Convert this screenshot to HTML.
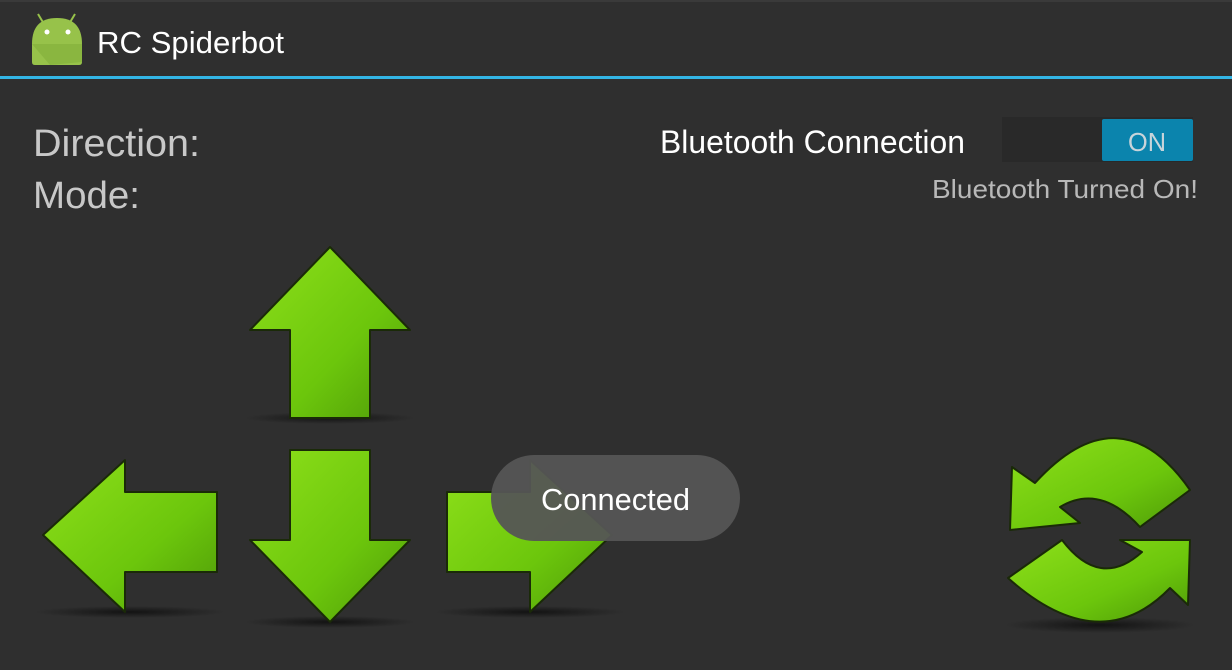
<!DOCTYPE html>
<html><head><meta charset="utf-8"><style>html,body{margin:0;padding:0;background:#2f2f2f;}svg{display:block}</style></head>
<body>
<svg width="1232" height="670" viewBox="0 0 1232 670" xmlns="http://www.w3.org/2000/svg" font-family="Liberation Sans, sans-serif">
<defs>
<linearGradient id="g" x1="0" y1="0" x2="1" y2="1">
<stop offset="0" stop-color="#8ee01a"/><stop offset="0.6" stop-color="#6cc60c"/><stop offset="1" stop-color="#4e9a08"/>
</linearGradient>
<radialGradient id="sh" cx="0.5" cy="0.5" r="0.5"><stop offset="0" stop-color="#000" stop-opacity="0.6"/><stop offset="1" stop-color="#000" stop-opacity="0"/></radialGradient>
</defs>
<rect width="1232" height="670" fill="#2f2f2f"/>
<rect width="1232" height="2" fill="#3a3a3a"/>
<rect y="76" width="1232" height="3" fill="#33b5e5"/>
<!-- android icon -->
<g>
<line x1="38" y1="14" x2="44" y2="24" stroke="#97c24a" stroke-width="2"/>
<line x1="75" y1="14" x2="69" y2="24" stroke="#97c24a" stroke-width="2"/>
<path d="M32 44 Q32 18 57 18 Q82 18 82 44 L82 62 Q82 65 79 65 L35 65 Q32 65 32 62 Z" fill="#97c24a"/>
<path d="M32 44 L82 44 L82 62 L50 65 Z" fill="#8ab640"/>
<circle cx="47" cy="32" r="2.5" fill="#fff"/><circle cx="68" cy="32" r="2.5" fill="#fff"/>
</g>
<text x="97" y="53" font-size="31" fill="#fff" textLength="187" lengthAdjust="spacingAndGlyphs">RC Spiderbot</text>
<text x="33" y="156" font-size="38" fill="#c8c8c8" textLength="167" lengthAdjust="spacingAndGlyphs">Direction:</text>
<text x="33" y="208" font-size="38" fill="#c8c8c8" textLength="107" lengthAdjust="spacingAndGlyphs">Mode:</text>
<text x="660" y="153" font-size="32" fill="#fff" textLength="305" lengthAdjust="spacingAndGlyphs">Bluetooth Connection</text>
<rect x="1002" y="117" width="191" height="45" fill="#292929"/>
<rect x="1102" y="119" width="91" height="42" rx="2" fill="#0b84ad"/>
<text x="1147" y="151" font-size="26" fill="#c8d4da" text-anchor="middle" textLength="38" lengthAdjust="spacingAndGlyphs">ON</text>
<text x="932" y="198" font-size="26" fill="#b8b8b8" textLength="266" lengthAdjust="spacingAndGlyphs">Bluetooth Turned On!</text>
<!-- shadows -->
<ellipse cx="330" cy="418" rx="85" ry="6" fill="url(#sh)"/>
<ellipse cx="330" cy="622" rx="85" ry="6" fill="url(#sh)"/>
<ellipse cx="130" cy="612" rx="95" ry="6" fill="url(#sh)"/>
<ellipse cx="530" cy="612" rx="95" ry="6" fill="url(#sh)"/>
<ellipse cx="1100" cy="625" rx="95" ry="8" fill="url(#sh)"/>
<g fill="url(#g)" stroke="#1a2a08" stroke-width="2" stroke-linejoin="round">
<path d="M330 247 L410 330 L370 330 L370 418 L290 418 L290 330 L250 330 Z"/>
<path d="M290 450 L370 450 L370 540 L410 540 L330 622 L250 540 L290 540 Z"/>
<path d="M43 535 L125 460 L125 492 L217 492 L217 572 L125 572 L125 612 Z"/>
<path d="M447 492 L530 492 L530 460 L612 535 L530 612 L530 572 L447 572 Z"/>
<path d="M1012 467 L1010 530 L1080 523 L1060 507 Q1100 483 1140 527 L1190 490 Q1120 390 1035 483 Z"/>
<path d="M1190 540 L1188 605 L1170 588 Q1100 660 1008 578 L1062 540 Q1100 590 1142 552 L1120 540 Z"/>
</g>
<rect x="491" y="455" width="249" height="86" rx="43" fill="#555" fill-opacity="0.95"/>
<text x="615.5" y="510" font-size="31" fill="#fff" text-anchor="middle" textLength="149" lengthAdjust="spacingAndGlyphs">Connected</text>
</svg>
</body></html>
